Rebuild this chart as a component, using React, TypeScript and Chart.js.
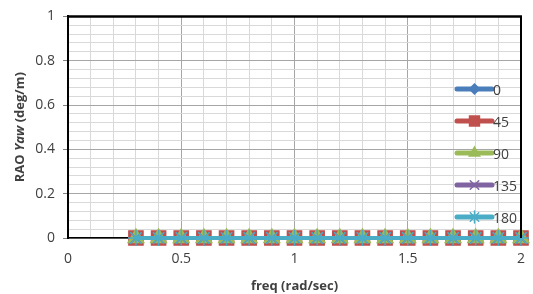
import React, { useEffect, useRef } from "react";
import { Chart, registerables } from "chart.js";
import { drawPoint } from "chart.js/helpers";

Chart.register(...registerables);

const freq = [0.3, 0.4, 0.5, 0.6, 0.7, 0.8, 0.9, 1.0, 1.1, 1.2, 1.3, 1.4, 1.5, 1.6, 1.7, 1.8, 1.9, 2.0];
const rao0 = [0, 0, 0, 0, 0, 0, 0, 0, 0, 0, 0, 0, 0, 0, 0, 0, 0, 0];
const rao45 = [0, 0, 0, 0, 0, 0, 0, 0, 0, 0, 0, 0, 0, 0, 0, 0, 0, 0];
const rao90 = [0, 0, 0, 0, 0, 0, 0, 0, 0, 0, 0, 0, 0, 0, 0, 0, 0, 0];
const rao135 = [0, 0, 0, 0, 0, 0, 0, 0, 0, 0, 0, 0, 0, 0, 0, 0, 0, 0];
const rao180 = [0, 0, 0, 0, 0, 0, 0, 0, 0, 0, 0, 0, 0, 0, 0, 0, 0, 0];

const seriesNames = ["0", "45", "90", "135", "180"];
const seriesValues = [rao0, rao45, rao90, rao135, rao180];
const seriesColors = ["#4A7EBB", "#C0504D", "#9BBB59", "#8064A2", "#4BACC6"];
const seriesMarkers = ["rectRot", "rect", "triangle", "crossRot", "star"];
const markerRadius = [7, 10, 9, 8, 8];
const legendMarkerRadius = [5, 7, 6, 6, 6];

const xTitle = "freq (rad/sec)";
const yTitleParts = [
  { text: "RAO ", italic: false },
  { text: "Yaw", italic: true },
  { text: " (deg/m)", italic: false },
];

const FONT = "'Open Sans', sans-serif";
const TEXT = "#404040";

const extras = {
  id: "extras",
  afterDatasetsDraw(chart: any) {
    const { ctx, chartArea } = chart;
    ctx.save();
    ctx.strokeStyle = "#000";
    ctx.lineWidth = 2.5;
    ctx.beginPath();
    ctx.moveTo(chartArea.left - 1, chartArea.top);
    ctx.lineTo(chartArea.right + 1, chartArea.top);
    ctx.stroke();
    ctx.lineWidth = 2;
    ctx.beginPath();
    ctx.moveTo(chartArea.right, chartArea.top);
    ctx.lineTo(chartArea.right, chartArea.bottom);
    ctx.stroke();

    const lx0 = 457;
    const lx1 = 492;
    for (let i = 0; i < seriesNames.length; i++) {
      const y = 89 + i * 32;
      ctx.strokeStyle = seriesColors[i];
      ctx.lineWidth = 5;
      ctx.lineCap = "round";
      ctx.beginPath();
      ctx.moveTo(lx0, y);
      ctx.lineTo(lx1, y);
      ctx.stroke();
      ctx.fillStyle = seriesColors[i];
      ctx.strokeStyle = seriesColors[i];
      ctx.lineWidth = 1.5;
      drawPoint(ctx, { pointStyle: seriesMarkers[i], radius: legendMarkerRadius[i], borderWidth: 1.5 } as any, (lx0 + lx1) / 2, y);
      ctx.fillStyle = TEXT;
      ctx.font = `14px ${FONT}`;
      ctx.textAlign = "left";
      ctx.textBaseline = "middle";
      ctx.fillText(seriesNames[i], lx1 + 1, y + 2);
    }

    ctx.translate(20, (chartArea.top + chartArea.bottom) / 2);
    ctx.rotate(-Math.PI / 2);
    ctx.textBaseline = "middle";
    ctx.textAlign = "left";
    let total = 0;
    const widths: number[] = [];
    for (const p of yTitleParts) {
      ctx.font = `${p.italic ? "italic " : ""}bold 13px ${FONT}`;
      const w = ctx.measureText(p.text).width;
      widths.push(w);
      total += w;
    }
    let x = -total / 2;
    ctx.fillStyle = TEXT;
    yTitleParts.forEach((p, i) => {
      ctx.font = `${p.italic ? "italic " : ""}bold 13px ${FONT}`;
      ctx.fillText(p.text, x, 0);
      x += widths[i];
    });
    ctx.restore();
  },
};

export default function App() {
  const ref = useRef<HTMLCanvasElement>(null);
  useEffect(() => {
    if (!ref.current) return;
    const chart = new Chart(ref.current, {
      type: "line",
      data: {
        datasets: seriesNames.map((name, i) => ({
          label: name,
          data: freq.map((f, j) => ({ x: f, y: seriesValues[i][j] })),
          borderColor: seriesColors[i],
          backgroundColor: seriesColors[i],
          pointBackgroundColor: seriesColors[i],
          pointBorderColor: seriesColors[i],
          borderWidth: 4,
          pointStyle: seriesMarkers[i] as any,
          pointRadius: markerRadius[i],
          pointBorderWidth: 1.5,
          order: seriesNames.length - 1 - i,
          clip: false as any,
        })),
      },
      options: {
        responsive: false,
        animation: false,
        layout: { padding: { top: 10, right: 11, left: 0, bottom: 0 } },
        plugins: { legend: { display: false }, tooltip: { enabled: false } },
        scales: {
          x: {
            type: "linear",
            min: 0,
            max: 2,
            ticks: {
              stepSize: 0.1,
              autoSkip: false,
              maxRotation: 0,
              padding: 8,
              color: TEXT,
              font: { family: FONT, size: 14 },
              callback: (v: any, idx: number) => (idx % 5 === 0 ? String(Math.round(Number(v) * 10) / 10) : ""),
            },
            grid: {
              color: (c: any) => (Math.round(c.tick.value / 0.1) % 5 === 0 ? "#a6a6a6" : "#d9d9d9"),
              tickColor: "transparent",
              tickLength: 5,
            },
            border: { color: "#000", width: 1.5 },
            title: {
              display: true,
              text: xTitle,
              color: TEXT,
              font: { family: FONT, size: 13, weight: "bold" },
              padding: { top: 2, bottom: 0 },
            },
            afterFit: (s: any) => {
              s.height = 56;
            },
          },
          y: {
            type: "linear",
            min: 0,
            max: 1,
            ticks: {
              stepSize: 0.04,
              autoSkip: false,
              padding: 8,
              color: TEXT,
              font: { family: FONT, size: 14 },
              callback: (v: any, idx: number) => (idx % 5 === 0 ? String(Math.round(Number(v) * 10) / 10) : ""),
            },
            grid: {
              color: (c: any) => (Math.round(c.tick.value / 0.04) % 5 === 0 ? "#a6a6a6" : "#d9d9d9"),
              tickColor: (c: any) => (Math.round(c.tick.value / 0.04) % 5 === 0 ? "#808080" : "transparent"),
              tickLength: 5,
            },
            border: { color: "#000", width: 2 },
            afterFit: (s: any) => {
              s.width = 68;
            },
          },
        },
      },
      plugins: [extras],
    });
    return () => chart.destroy();
  }, []);
  return (
    <div style={{ position: "fixed", left: 0, top: 0, width: 533, height: 294, background: "#fff" }}>
      <canvas ref={ref} width={533} height={294} />
    </div>
  );
}
